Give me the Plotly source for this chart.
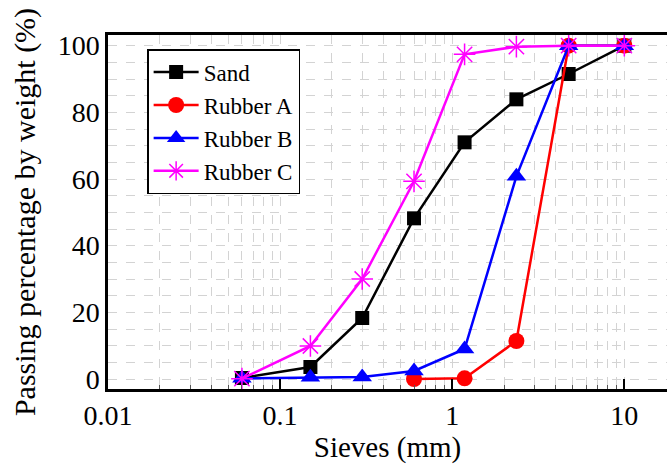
import plotly.graph_objects as go

sieve_sand = [0.06, 0.15, 0.3, 0.6, 1.18, 2.36, 4.75, 10]
sand = [0.3, 3.6, 18.3, 48.2, 71.0, 83.9, 91.5, 100]

sieve_a = [0.6, 1.18, 2.36, 4.75, 10]
rubber_a = [0.0, 0.2, 11.4, 100, 100]

sieve_b = [0.06, 0.15, 0.3, 0.6, 1.18, 2.36, 4.75, 10]
rubber_b = [0.2, 0.5, 0.6, 2.4, 9.0, 60.8, 100, 100]

sieve_c = [0.06, 0.15, 0.3, 0.6, 1.18, 2.36, 4.75, 10]
rubber_c = [0.1, 9.9, 30.0, 59.3, 97.4, 99.7, 100, 100]

x_tickvals = [0.01, 0.1, 1, 10]
x_ticktext = ["0.01", "0.1", "1", "10"]
y_tickvals = [0, 20, 40, 60, 80, 100]

FONT = "Liberation Serif"

fig = go.Figure()
series = [
    ("Sand", sieve_sand, sand, "#000000", "square", 14, 0),
    ("Rubber A", sieve_a, rubber_a, "#ff0000", "circle", 16, 0),
    ("Rubber B", sieve_b, rubber_b, "#0000ff", "triangle-up", 17, 0),
    ("Rubber C", sieve_c, rubber_c, "#ff00ff", "asterisk-open", 18, 1.5),
]
for name, xs, ys, col, sym, sz, lw in series:
    fig.add_trace(go.Scatter(
        x=xs, y=ys, name=name, mode="lines+markers",
        line=dict(color=col, width=2.5),
        marker=dict(symbol=sym, size=sz, color=col,
                    line=dict(color=col, width=lw)),
    ))

grid_col = "#d3d3d3"
fig.update_layout(
    width=667, height=464,
    margin=dict(l=108, r=0, t=35, b=75),
    plot_bgcolor="white", paper_bgcolor="white",
    font=dict(family=FONT, size=28, color="black"),
    showlegend=True,
    legend=dict(
        x=0.07, y=0.96, xanchor="left", yanchor="top",
        bgcolor="white", bordercolor="black", borderwidth=1.5,
        font=dict(family=FONT, size=23, color="black"),
        tracegroupgap=0, itemwidth=45,
    ),
    xaxis=dict(
        type="log", range=[-2, 1.248],
        tickvals=x_tickvals, ticktext=x_ticktext,
        ticks="inside", ticklen=10, tickwidth=1.5, tickcolor="black",
        showline=True, linecolor="black", linewidth=2.5, mirror=True,
        showgrid=True, gridcolor=grid_col, griddash="dash", gridwidth=1,
        minor=dict(dtick="D1", showgrid=True, gridcolor=grid_col,
                   griddash="dash", gridwidth=1, ticks="inside",
                   ticklen=4, tickwidth=1, tickcolor="#555555"),
        zeroline=False,
        title=dict(text="Sieves (mm)", font=dict(family=FONT, size=29), standoff=4),
        tickfont=dict(family=FONT, size=28),
    ),
    yaxis=dict(
        range=[-3, 103.2],
        tickvals=y_tickvals,
        ticks="",
        showline=True, linecolor="black", linewidth=2.5, mirror=False,
        showgrid=True, gridcolor=grid_col, griddash="dash", gridwidth=1,
        minor=dict(dtick=5, showgrid=True, gridcolor=grid_col,
                   griddash="dash", gridwidth=1, ticks=""),
        zeroline=False,
        title=dict(text="Passing percentage by weight (%)", font=dict(family=FONT, size=30), standoff=14),
        tickfont=dict(family=FONT, size=28),
    ),
)

fig.write_html("out.html")
